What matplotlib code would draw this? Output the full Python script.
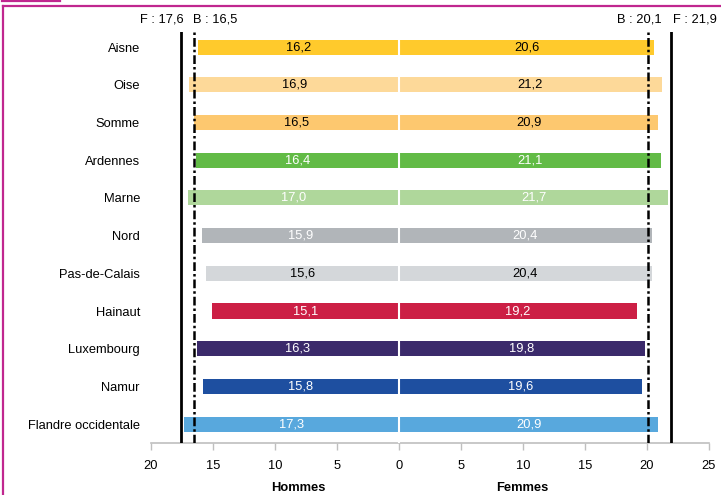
import matplotlib
matplotlib.use("Agg")
import matplotlib.pyplot as plt
from matplotlib.lines import Line2D

plt.rcParams['font.family'] = ['Liberation Sans', 'DejaVu Sans']

# Life expectancy at 65 by territory (years)
territories = ["Aisne", "Oise", "Somme", "Ardennes", "Marne", "Nord",
               "Pas-de-Calais", "Hainaut", "Luxembourg", "Namur",
               "Flandre occidentale"]
hommes = [16.2, 16.9, 16.5, 16.4, 17.0, 15.9, 15.6, 15.1, 16.3, 15.8, 17.3]
femmes = [20.6, 21.2, 20.9, 21.1, 21.7, 20.4, 20.4, 19.2, 19.8, 19.6, 20.9]
bar_colors = ["#FFCA2C", "#FDD999", "#FDC86F", "#62BB46", "#AFD79B", "#B1B5B9",
              "#D4D7DA", "#CC1F45", "#3B2A6B", "#1E4FA0", "#58A8DD"]
label_colors = ["black", "black", "black", "white", "white", "white",
                "black", "white", "white", "white", "white"]

# National references
france_h, france_f = 17.6, 21.9
belgique_h, belgique_f = 16.5, 20.1

tick_values = [-20, -15, -10, -5, 0, 5, 10, 15, 20, 25]

FS = 9.3
W, H = 721, 495
fig = plt.figure(figsize=(W / 100, H / 100), dpi=100)
ax = fig.add_axes([151 / W, 1 - 443 / H, (709 - 151) / W, (443 - 32) / H])

y = list(range(len(territories)))
ax.barh(y, [-v for v in hommes], height=0.4, color=bar_colors, linewidth=0)
ax.barh(y, femmes, height=0.4, color=bar_colors, linewidth=0)
ax.axvline(0, color="white", lw=1.5, zorder=3)

for i in y:
    ax.text(-hommes[i] / 2, i, f"{hommes[i]:.1f}".replace(".", ","),
            ha="center", va="center", fontsize=FS, color=label_colors[i], zorder=4)
    ax.text(femmes[i] / 2, i, f"{femmes[i]:.1f}".replace(".", ","),
            ha="center", va="center", fontsize=FS, color=label_colors[i], zorder=4)

# Reference lines
ax.axvline(-france_h, color="black", lw=2, zorder=5)
ax.axvline(france_f, color="black", lw=2, zorder=5)
ax.axvline(-belgique_h, color="black", lw=1.8, ls=(0, (3.5, 1.2, 1, 1.2)), zorder=5)
ax.axvline(belgique_f, color="black", lw=1.8, ls=(0, (3.5, 1.2, 1, 1.2)), zorder=5)

ref_txt = dict(fontsize=FS, va="center", transform=ax.get_xaxis_transform())
ax.text(-france_h + 0.25, 1.03, f"F : {france_h:.1f}".replace(".", ","), ha="right", **ref_txt)
ax.text(-belgique_h - 0.15, 1.03, f"B : {belgique_h:.1f}".replace(".", ","), ha="left", **ref_txt)
ax.text(belgique_f + 1.05, 1.03, f"B : {belgique_f:.1f}".replace(".", ","), ha="right", **ref_txt)
ax.text(france_f + 0.2, 1.03, f"F : {france_f:.1f}".replace(".", ","), ha="left", **ref_txt)

ax.set_xlim(-20, 25)
ax.set_ylim(10.5, -0.4)
ax.set_yticks(y)
ax.set_yticklabels(territories, fontsize=FS)
ax.tick_params(axis="y", length=0, pad=8)
ax.set_xticks(tick_values)
ax.set_xticklabels([str(abs(v)) for v in tick_values], fontsize=FS)
ax.tick_params(axis="x", length=5, width=1, color="#BFBFBF", pad=7)

for side in ["top", "right", "left"]:
    ax.spines[side].set_visible(False)
ax.spines["bottom"].set_color("#BFBFBF")
ax.spines["bottom"].set_linewidth(1.2)

ax.text(-8.1, -0.11, "Hommes", transform=ax.get_xaxis_transform(),
        ha="center", va="center", fontsize=FS, fontweight="bold")
ax.text(9.9, -0.11, "Femmes", transform=ax.get_xaxis_transform(),
        ha="center", va="center", fontsize=FS, fontweight="bold")

# Frame
mag = "#C0278F"
fig.add_artist(Line2D([3 / W, 3 / W], [0, 1 - 6 / H], color=mag, lw=1.6,
                      transform=fig.transFigure))
fig.add_artist(Line2D([3 / W, 1], [1 - 6 / H, 1 - 6 / H], color=mag, lw=1.6,
                      transform=fig.transFigure))
fig.add_artist(Line2D([2 / W, 60 / W], [1 - 0.5 / H, 1 - 0.5 / H], color=mag, lw=1.6,
                      transform=fig.transFigure))

fig.savefig("out.png", dpi=100)
